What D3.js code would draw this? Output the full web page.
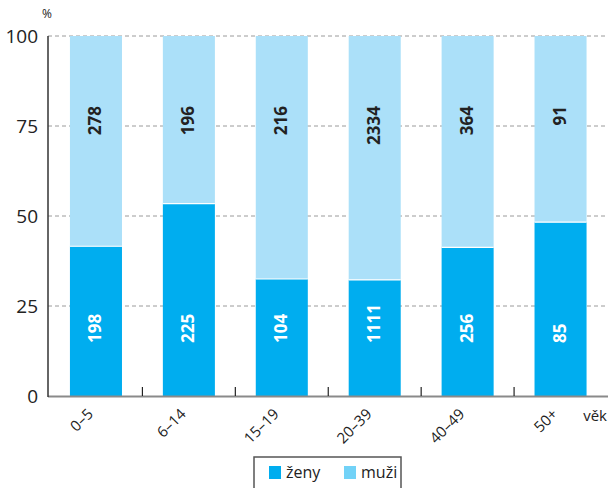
<!DOCTYPE html>
<html>
<head>
<meta charset="utf-8">
<script src="https://cdn.jsdelivr.net/npm/d3@7"></script>
<style>
  body { margin: 0; background: #fff; }
  svg { display: block; font-family: "Open Sans", sans-serif; }
</style>
</head>
<body>
<svg id="chart" width="608" height="488"></svg>
<script>
  // age groups and head counts
  var categories = ["0–5", "6–14", "15–19", "20–39", "40–49", "50+"];
  var zeny = [198, 225, 104, 1111, 256, 85];
  var muzi = [278, 196, 216, 2334, 364, 91];
  var yTicks = [0, 25, 50, 75, 100];

(function(){
  var colZeny = "#00adef", colMuzi = "#abe0f9", colMuziLegend = "#72d2f7";

  var svg = d3.select("#chart");
  var pLeft = 48, pRight = 607, pTop = 36, pBottom = 396;

  var rows = categories.map(function(c, i){ return {cat: c, zeny: zeny[i], muzi: muzi[i]}; });
  var stack = d3.stack().keys(["zeny", "muzi"]).offset(d3.stackOffsetExpand);
  var series = stack(rows);

  var x = d3.scaleBand().domain(categories).range([pLeft + 1.5, pRight])
        .paddingInner(0.44).paddingOuter(0.22);
  var y = d3.scaleLinear().domain([0, 1]).range([pBottom, pTop]);
  var yPct = d3.scaleLinear().domain([0, 100]).range([pBottom, pTop]);

  // dashed grid
  svg.append("g").selectAll("line")
    .data(yTicks.filter(function(d){ return d > 0; }))
    .enter().append("line")
    .attr("x1", pLeft).attr("x2", pRight + 1)
    .attr("y1", function(d){ return yPct(d); })
    .attr("y2", function(d){ return yPct(d); })
    .attr("stroke", "#9a9a9a").attr("stroke-width", 1)
    .attr("stroke-dasharray", "4,3");

  // bars
  svg.append("g").selectAll("g")
    .data(series).enter().append("g")
    .attr("fill", function(d){ return d.key == "zeny" ? colZeny : colMuzi; })
    .selectAll("rect")
    .data(function(d){ return d; })
    .enter().append("rect")
    .attr("x", function(d){ return x(d.data.cat); })
    .attr("width", x.bandwidth())
    .attr("y", function(d){ return y(d[1]); })
    .attr("height", function(d){ return y(d[0]) - y(d[1]); });

  // white seam between segments
  svg.append("g").selectAll("line")
    .data(series[0]).enter().append("line")
    .attr("x1", function(d){ return x(d.data.cat); })
    .attr("x2", function(d){ return x(d.data.cat) + x.bandwidth(); })
    .attr("y1", function(d){ return y(d[1]); })
    .attr("y2", function(d){ return y(d[1]); })
    .attr("stroke", "#fff").attr("stroke-width", 1.2);

  // value labels, read bottom-to-top
  function valLabels(vals, yPos, anchor, fill){
    svg.append("g").selectAll("text")
      .data(vals).enter().append("text")
      .attr("transform", function(d, i){
        return "translate(" + (x(categories[i]) + x.bandwidth()/2 + 5.5) + "," + yPos + ") rotate(-90)";
      })
      .attr("text-anchor", anchor)
      .attr("font-size", "17px").attr("font-weight", "bold")
      .attr("fill", fill)
      .text(function(d){ return d; });
  }
  valLabels(zeny, 343, "start", "#fff");
  valLabels(muzi, 106, "end", "#222");

  // baseline + ticks between bars
  svg.append("line")
    .attr("x1", pLeft).attr("x2", 608)
    .attr("y1", pBottom + 0.5).attr("y2", pBottom + 0.5)
    .attr("stroke", "#8a8a8a").attr("stroke-width", 2);
  svg.append("g").selectAll("line")
    .data(categories.slice(0, -1)).enter().append("line")
    .attr("x1", function(d){ return x(d) + x.bandwidth() + (x.step() - x.bandwidth())/2; })
    .attr("x2", function(d){ return x(d) + x.bandwidth() + (x.step() - x.bandwidth())/2; })
    .attr("y1", pBottom).attr("y2", pBottom - 9)
    .attr("stroke", "#222").attr("stroke-width", 1.2);

  // y axis
  svg.append("line")
    .attr("x1", pLeft).attr("x2", pLeft)
    .attr("y1", pTop).attr("y2", pBottom + 1)
    .attr("stroke", "#333").attr("stroke-width", 1.5);
  svg.append("g").selectAll("text")
    .data(yTicks).enter().append("text")
    .attr("x", 38).attr("y", function(d){ return yPct(d) + 7; })
    .attr("text-anchor", "end")
    .attr("font-size", "19px").attr("fill", "#222")
    .text(function(d){ return d; });
  svg.append("text").attr("x", 47).attr("y", 18)
    .attr("text-anchor", "middle").attr("font-size", "12px").attr("fill", "#222")
    .text("%");

  // x labels
  svg.append("g").selectAll("text")
    .data(categories).enter().append("text")
    .attr("transform", function(d){
      return "translate(" + (x(d) + x.bandwidth()/2 - 2) + "," + (pBottom + 19) + ") rotate(-45)";
    })
    .attr("text-anchor", "end")
    .attr("font-size", "15px").attr("fill", "#222")
    .text(function(d){ return d; });
  svg.append("text").attr("x", 607).attr("y", 421)
    .attr("text-anchor", "end").attr("font-size", "15px").attr("fill", "#222")
    .text("věk");

  // legend
  var lg = svg.append("g").attr("transform", "translate(254,457)");
  lg.append("rect").attr("x", 0).attr("y", 0).attr("width", 147).attr("height", 40)
    .attr("fill", "#fff").attr("stroke", "#555").attr("stroke-width", 1.5);
  var items = [{name: "ženy", c: colZeny}, {name: "muži", c: colMuziLegend}];
  var li = lg.selectAll("g.item").data(items).enter().append("g")
    .attr("transform", function(d, i){ return "translate(" + (15 + i * 75) + ",9)"; });
  li.append("rect").attr("width", 12).attr("height", 13)
    .attr("fill", function(d){ return d.c; });
  li.append("text").attr("x", 17).attr("y", 12)
    .attr("font-size", "16px").attr("fill", "#222")
    .text(function(d){ return d.name; });
})();
</script>
</body>
</html>
